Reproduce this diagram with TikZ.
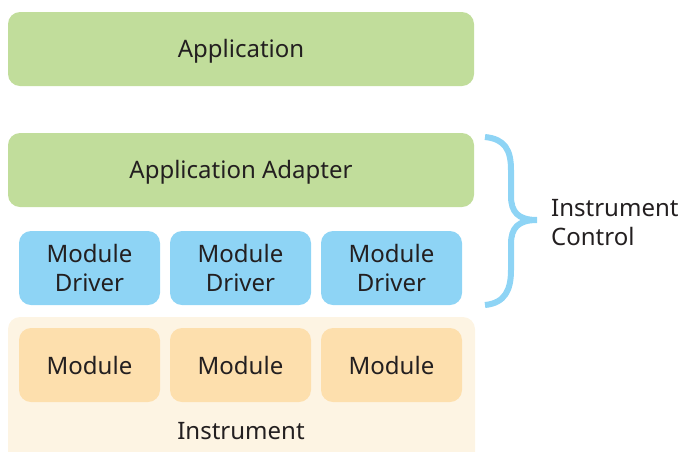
\documentclass[tikz,border=0pt]{standalone}
\usepackage{fontspec}
\setmainfont{Noto Sans}
\definecolor{appgreen}{HTML}{C1DD9B}
\definecolor{drvblue}{HTML}{8ED4F5}
\definecolor{modorange}{HTML}{FDDFAD}
\definecolor{instbg}{HTML}{FDF4E3}
\definecolor{txt}{HTML}{231F20}
\begin{document}
\begin{tikzpicture}[x=1pt,y=-1pt,
  every node/.style={text=txt,font=\fontsize{24}{29}\selectfont,align=center,inner sep=0pt},
  box/.style={rectangle,rounded corners=12pt,minimum width=#1,minimum height=74pt},
  greenbox/.style={box=466pt,fill=appgreen,text height=17pt,text depth=1pt},
  drvbox/.style={box=141pt,fill=drvblue},
  modbox/.style={box=141pt,fill=modorange},
  bracestyle/.style={draw=drvblue,line width=6pt}]
\useasboundingbox (0,0) rectangle (678,451);
\begin{scope}
\clip (0,0) rectangle (678,451);
\fill[instbg,rounded corners=12pt] (8,317) rectangle (475,470);
\end{scope}
\node[greenbox] (app) at (241,49) {Application};
\node[greenbox] (adapter) at (241,170) {Application Adapter};
\node[drvbox] (d1) at (89.5,268) {Module\\Driver};
\node[drvbox] (d2) at (240.5,268) {Module\\Driver};
\node[drvbox] (d3) at (391.5,268) {Module\\Driver};
\node[modbox] (m1) at (89.5,365) {Module};
\node[modbox] (m2) at (240.5,365) {Module};
\node[modbox] (m3) at (391.5,365) {Module};
\node[text height=17pt,text depth=1pt] (inst) at (241,431) {Instrument};
\node[align=left,anchor=west] (ctrl) at (551,223) {Instrument\\Control};
\coordinate (btop) at (485,137);
\coordinate (btip) at (537,220);
\coordinate (bbot) at (485,305);
\draw[bracestyle] (btop) .. controls (505,139) and (511,150) .. (511,170) -- (511,196) .. controls (511,212) and (518,220) .. (btip)
  .. controls (518,220) and (511,228) .. (511,244) -- (511,270) .. controls (511,290) and (505,303) .. (bbot);
\end{tikzpicture}
\end{document}
